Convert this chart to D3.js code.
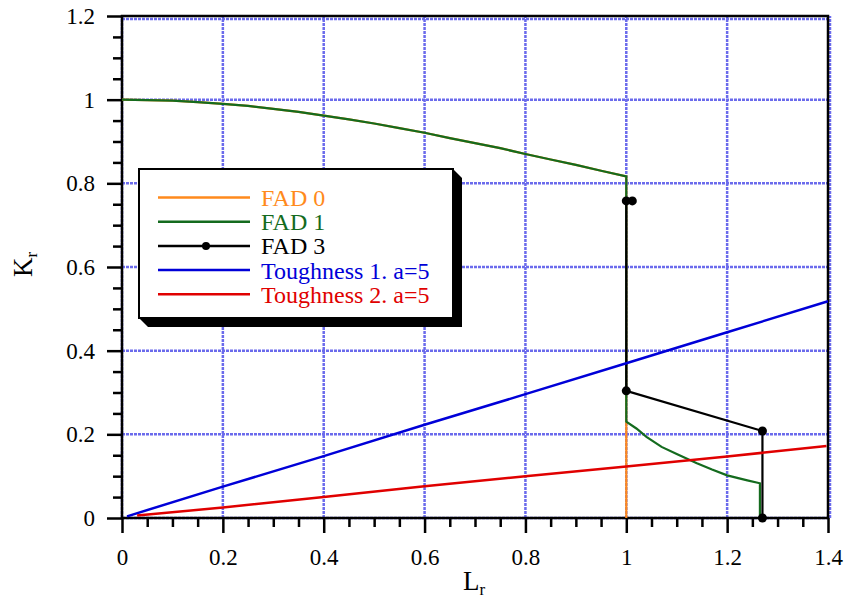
<!DOCTYPE html>
<html>
<head>
<meta charset="utf-8">
<script src="https://cdn.jsdelivr.net/npm/d3@7"></script>
<style>
  body { margin: 0; background: #fff; }
</style>
</head>
<body>
<div id="chart"></div>
<script>
const frame_width = 845;
const frame_height = 598;
const margins = {left: 122, right: 17, top: 16, bottom: 80};
const SERIF = "Liberation Serif";

// values (Lr, Kr)
const fad0 = [[0, 1.0], [0.05, 0.999], [0.1, 0.9975], [0.15, 0.994], [0.2, 0.990], [0.25, 0.985],
  [0.3, 0.978], [0.35, 0.971], [0.4, 0.962], [0.45, 0.953], [0.5, 0.943], [0.55, 0.932],
  [0.6, 0.921], [0.65, 0.908], [0.7, 0.896], [0.75, 0.884], [0.8, 0.870], [0.85, 0.857],
  [0.9, 0.844], [0.95, 0.830], [1.0, 0.8165], [1.0, 0]];
const fad1 = [[0, 1.0], [0.05, 0.999], [0.1, 0.9975], [0.15, 0.994], [0.2, 0.990], [0.25, 0.985],
  [0.3, 0.978], [0.35, 0.971], [0.4, 0.962], [0.45, 0.953], [0.5, 0.943], [0.55, 0.932],
  [0.6, 0.921], [0.65, 0.908], [0.7, 0.896], [0.75, 0.884], [0.8, 0.870], [0.85, 0.857],
  [0.9, 0.844], [0.95, 0.830], [1.0, 0.8165], [1.0, 0.230], [1.02, 0.214], [1.04, 0.194],
  [1.07, 0.170], [1.1, 0.153], [1.14, 0.131], [1.17, 0.116], [1.2, 0.102], [1.24, 0.090],
  [1.265, 0.083], [1.265, 0]];
const fad3 = [[1.012, 0.758], [1.0, 0.758], [1.0, 0.304], [1.27, 0.208], [1.27, 0]];
const tough1 = [[0.01, 0.004], [0.2, 0.075], [0.4, 0.148], [0.6, 0.223], [0.8, 0.296],
  [1.0, 0.370], [1.2, 0.444], [1.4, 0.518]];
const tough2 = [[0.03, 0.006], [0.2, 0.025], [0.4, 0.050], [0.6, 0.076], [0.8, 0.100],
  [1.0, 0.123], [1.2, 0.147], [1.397, 0.172]];

const x_ticks = [0, 0.2, 0.4, 0.6, 0.8, 1, 1.2, 1.4];
const y_ticks = [0, 0.2, 0.4, 0.6, 0.8, 1, 1.2];
const x_minor = [0.05,0.1,0.15,0.25,0.3,0.35,0.45,0.5,0.55,0.65,0.7,0.75,0.85,0.9,0.95,1.05,1.1,1.15,1.25,1.3,1.35];
const y_minor = [0.05,0.1,0.15,0.25,0.3,0.35,0.45,0.5,0.55,0.65,0.7,0.75,0.85,0.9,0.95,1.05,1.1,1.15];

const legend_names = ["FAD 0", "FAD 1", "FAD 3", "Toughness 1. a=5", "Toughness 2. a=5"];
const colors = ["#ff8a1c", "#146b1e", "#000000", "#0000d8", "#e00000"];

const FRAME = d3.select("#chart")
  .append("svg")
    .attr("width", frame_width)
    .attr("height", frame_height)
    .style("font-family", SERIF);

const X_SCALE = d3.scaleLinear()
  .domain([0, 1.4])
  .range([margins.left, frame_width - margins.right]);
const Y_SCALE = d3.scaleLinear()
  .domain([0, 1.2])
  .range([frame_height - margins.bottom, margins.top]);

// grid
const grid = FRAME.append("g")
  .attr("stroke", "#6b6bec")
  .attr("stroke-width", 2.5)
  .attr("stroke-dasharray", "3,1");
grid.selectAll(".gx").data(x_ticks).enter().append("line")
  .attr("x1", d => X_SCALE(d) + (d == 1.4 ? 2 : 0)).attr("x2", d => X_SCALE(d) + (d == 1.4 ? 2 : 0))
  .attr("y1", Y_SCALE(0)).attr("y2", Y_SCALE(1.2));
grid.selectAll(".gy").data(y_ticks).enter().append("line")
  .attr("x1", X_SCALE(0)).attr("x2", X_SCALE(1.4) + 2)
  .attr("y1", d => Y_SCALE(d) + (d == 1.2 ? 3 : 0)).attr("y2", d => Y_SCALE(d) + (d == 1.2 ? 3 : 0));

// frame
FRAME.append("rect")
  .attr("x", X_SCALE(0)).attr("y", Y_SCALE(1.2))
  .attr("width", X_SCALE(1.4) - X_SCALE(0))
  .attr("height", Y_SCALE(0) - Y_SCALE(1.2))
  .attr("fill", "none")
  .attr("stroke", "#000")
  .attr("stroke-width", 2.5);

// axes
FRAME.append("g")
  .attr("transform", "translate(0," + Y_SCALE(0) + ")")
  .call(d3.axisBottom(X_SCALE).tickValues(x_ticks).tickSize(15).tickPadding(16).tickFormat(d3.format("")));
FRAME.append("g")
  .attr("transform", "translate(0," + Y_SCALE(0) + ")")
  .call(d3.axisBottom(X_SCALE).tickValues(x_minor).tickSize(9).tickFormat(""));
FRAME.append("g")
  .attr("transform", "translate(" + X_SCALE(0) + ",0)")
  .call(d3.axisLeft(Y_SCALE).tickValues(y_ticks).tickSize(15).tickPadding(12).tickFormat(d3.format("")));
FRAME.append("g")
  .attr("transform", "translate(" + X_SCALE(0) + ",0)")
  .call(d3.axisLeft(Y_SCALE).tickValues(y_minor).tickSize(9).tickFormat(""));

FRAME.selectAll(".domain").remove();
FRAME.selectAll("g").attr("font-family", null);
FRAME.selectAll(".tick line").attr("stroke", "#000").attr("stroke-width", 2.5);
FRAME.selectAll(".tick text")
  .style("font-family", SERIF)
  .style("font-size", "23px")
  .attr("fill", "#000");

// axis titles
FRAME.append("text")
  .attr("x", 463).attr("y", 590)
  .style("font-family", SERIF)
  .style("font-size", "27px")
  .text("L")
  .append("tspan").style("font-size", "17px").attr("dy", 5).text("r");
FRAME.append("text")
  .attr("transform", "translate(32,277) rotate(-90)")
  .style("font-family", SERIF)
  .style("font-size", "27px")
  .text("K")
  .append("tspan").style("font-size", "17px").attr("dy", 5).text("r");

// curves
const line = d3.line()
  .x(d => X_SCALE(d[0]))
  .y(d => Y_SCALE(d[1]));

const series = [fad0, fad1, fad3, tough1, tough2];
const widths = [2.2, 2.2, 2.2, 2.5, 2.5];
series.forEach((s, i) => {
  FRAME.append("path")
    .datum(s)
    .attr("d", line)
    .attr("fill", "none")
    .attr("stroke", colors[i])
    .attr("stroke-width", widths[i]);
});

FRAME.selectAll(".dot")
  .data(fad3)
  .enter()
  .append("circle")
    .attr("cx", d => X_SCALE(d[0]))
    .attr("cy", d => Y_SCALE(d[1]))
    .attr("r", 4.5)
    .attr("fill", "#000");

// legend box with shadow
const lx0 = 139, lx1 = 453, ly0 = 169, ly1 = 318, sh = 9;
FRAME.append("polygon")
  .attr("points", [[lx1, ly0], [lx1 + sh, ly0 + sh], [lx1 + sh, ly1 + sh], [lx0 + sh, ly1 + sh], [lx0, ly1]].join(" "))
  .attr("fill", "#000");
FRAME.append("rect")
  .attr("x", lx0).attr("y", ly0)
  .attr("width", lx1 - lx0).attr("height", ly1 - ly0)
  .attr("fill", "#fff")
  .attr("stroke", "#000")
  .attr("stroke-width", 2);

const legend = FRAME.selectAll(".legend")
  .data(legend_names)
  .enter()
  .append("g")
    .attr("transform", (d, i) => "translate(0," + (197.5 + i * 24.2) + ")");
legend.append("line")
  .attr("x1", 158).attr("x2", 250)
  .attr("stroke", (d, i) => colors[i])
  .attr("stroke-width", 2.5);
legend.filter((d, i) => i == 2).append("circle")
  .attr("cx", 206).attr("r", 4).attr("fill", "#000");
legend.append("text")
  .attr("x", 261).attr("dy", "0.35em")
  .style("font-family", SERIF)
  .style("font-size", "24px")
  .attr("fill", (d, i) => colors[i])
  .text(d => d);
</script>
</body>
</html>
